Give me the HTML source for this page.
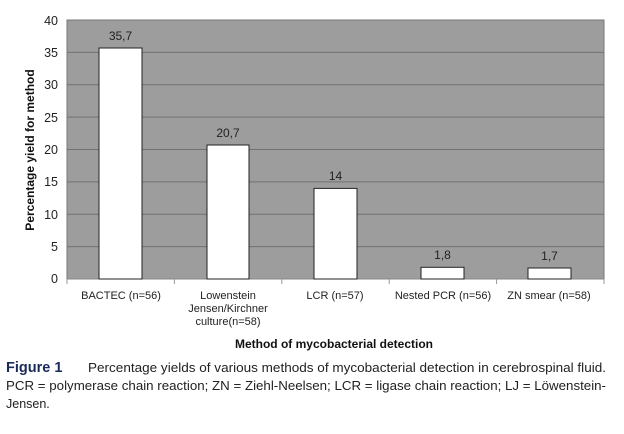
<!DOCTYPE html>
<html><head><meta charset="utf-8"><style>
body{margin:0;background:#fff;width:624px;height:429px;overflow:hidden;font-family:"Liberation Sans",sans-serif}
</style></head><body>
<svg width="624" height="429" xmlns="http://www.w3.org/2000/svg" font-family="Liberation Sans, sans-serif">
<rect x="67" y="20" width="537" height="259" fill="#9d9d9d" stroke="#777" stroke-width="1"/>
<g stroke="#727272" stroke-width="1">
<line x1="67" y1="52.4" x2="604" y2="52.4"/>
<line x1="67" y1="84.8" x2="604" y2="84.8"/>
<line x1="67" y1="117.1" x2="604" y2="117.1"/>
<line x1="67" y1="149.5" x2="604" y2="149.5"/>
<line x1="67" y1="181.9" x2="604" y2="181.9"/>
<line x1="67" y1="214.3" x2="604" y2="214.3"/>
<line x1="67" y1="246.6" x2="604" y2="246.6"/>
</g>
<line x1="67" y1="279" x2="604" y2="279" stroke="#888"/>
<g stroke="#999">
<line x1="67" y1="279" x2="67" y2="284"/><line x1="174.4" y1="279" x2="174.4" y2="284"/><line x1="281.8" y1="279" x2="281.8" y2="284"/><line x1="389.2" y1="279" x2="389.2" y2="284"/><line x1="496.6" y1="279" x2="496.6" y2="284"/><line x1="604" y1="279" x2="604" y2="284"/>
</g>
<g fill="#fff" stroke="#222" stroke-width="1">
<rect x="99" y="48" width="43" height="231"/>
<rect x="207" y="145" width="42" height="134"/>
<rect x="314" y="188.4" width="43" height="90.6"/>
<rect x="421" y="267.3" width="43" height="11.7"/>
<rect x="528" y="268" width="43" height="11"/>
</g>
<g font-size="12" fill="#222" text-anchor="middle">
<text x="120.5" y="40">35,7</text>
<text x="228" y="137">20,7</text>
<text x="335.5" y="180">14</text>
<text x="442.5" y="259">1,8</text>
<text x="549.5" y="260">1,7</text>
</g>
<g font-size="12.5" fill="#222" text-anchor="end">
<text x="58" y="25">40</text><text x="58" y="57">35</text><text x="58" y="89">30</text><text x="58" y="122">25</text><text x="58" y="154">20</text><text x="58" y="186">15</text><text x="58" y="219">10</text><text x="58" y="251">5</text><text x="58" y="283">0</text>
</g>
<text transform="translate(34,150) rotate(-90)" font-size="12" font-weight="bold" text-anchor="middle" fill="#111">Percentage yield for method</text>
<g font-size="11" fill="#222" text-anchor="middle">
<text x="121" y="299">BACTEC (n=56)</text>
<text x="228" y="299">Lowenstein</text>
<text x="228" y="312">Jensen/Kirchner</text>
<text x="228" y="325">culture(n=58)</text>
<text x="335" y="299">LCR (n=57)</text>
<text x="443" y="299">Nested PCR (n=56)</text>
<text x="549" y="299">ZN smear (n=58)</text>
</g>
<text x="334" y="348" font-size="12" font-weight="bold" text-anchor="middle" fill="#111">Method of mycobacterial detection</text>
<g font-size="12.5" fill="#222">
<text x="6" y="372" font-weight="bold" font-size="14.5" fill="#1a2a5a">Figure 1</text>
<text x="88" y="372" textLength="518" lengthAdjust="spacingAndGlyphs">Percentage yields of various methods of mycobacterial detection in cerebrospinal fluid.</text>
<text x="6" y="390" textLength="600" lengthAdjust="spacingAndGlyphs">PCR = polymerase chain reaction; ZN = Ziehl-Neelsen; LCR = ligase chain reaction; LJ = Löwenstein-</text>
<text x="6" y="408">Jensen.</text>
</g>
</svg>
</body></html>
